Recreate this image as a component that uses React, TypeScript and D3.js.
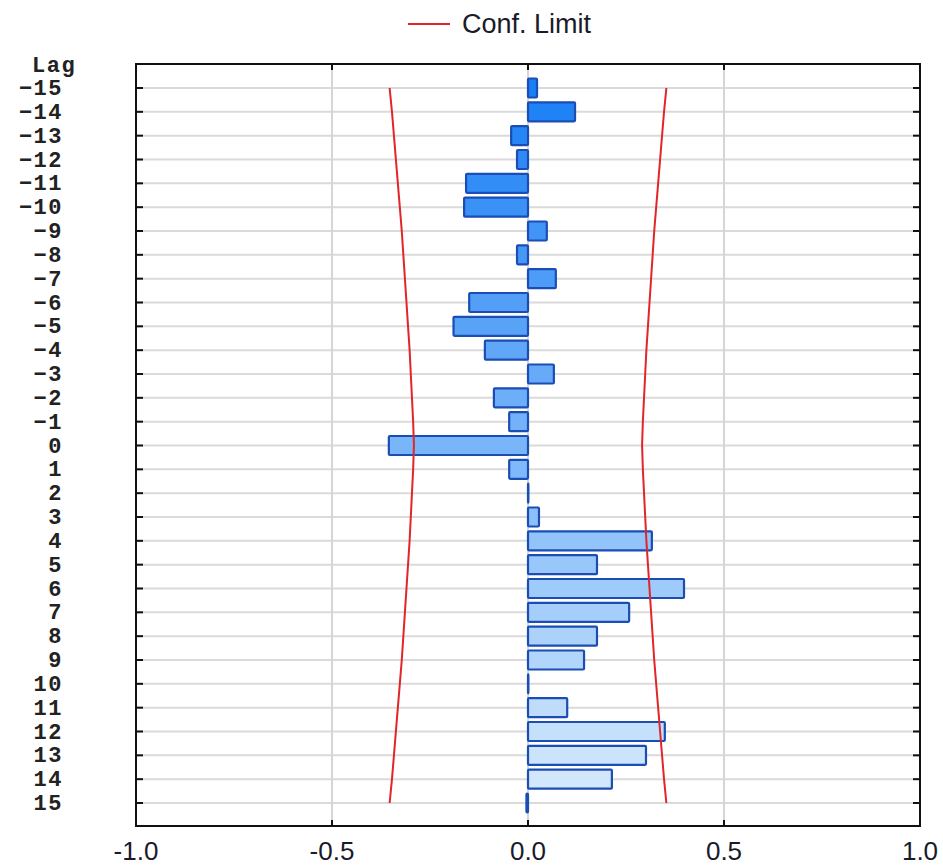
import React from "react";
import * as d3 from "d3";

// lags shown on the y axis, top to bottom
const lags = d3.range(-15, 16);

// cross-correlation per lag (-15 .. 15)
const ccf = [
  0.023, 0.12, -0.043, -0.028, -0.158, -0.163, 0.048, -0.028, 0.071, -0.15,
  -0.19, -0.11, 0.066, -0.087, -0.048, -0.355, -0.048, 0.001, 0.028, 0.316,
  0.176, 0.398, 0.258, 0.176, 0.143, 0.001, 0.1, 0.349, 0.301, 0.214, -0.004,
];

// confidence limit (+/-) per lag (-15 .. 15)
const confLimit = [
  0.353, 0.347, 0.342, 0.337, 0.332, 0.327, 0.322, 0.318, 0.314, 0.310,
  0.306, 0.302, 0.299, 0.296, 0.293, 0.291, 0.293, 0.296, 0.299, 0.302,
  0.306, 0.310, 0.314, 0.318, 0.322, 0.327, 0.332, 0.337, 0.342, 0.347, 0.353,
];

const xTicks = [-1.0, -0.5, 0.0, 0.5, 1.0];
const xGrid = [-0.5, 0.0, 0.5];

const W = 943;
const H = 866;
const frame = { left: 136, right: 920, top: 64, bottom: 826 };
const monoFont = "Liberation Mono, Courier New, monospace";
const sansFont = "Liberation Sans, Arial, sans-serif";

const App = () => {
  const x = d3.scaleLinear().domain([-1, 1]).range([frame.left, frame.right]);
  const y = d3.scaleLinear().domain([-15, 15]).range([88, 803]);
  const barH = 19;
  const color = d3.interpolateRgb("#1a7ff5", "#d8ebfc");

  const upper = d3
    .line<number>()
    .x((d) => x(d))
    .y((_, i) => y(lags[i]));
  const lower = d3
    .line<number>()
    .x((d) => x(-d))
    .y((_, i) => y(lags[i]));

  return (
    <div style={{ position: "absolute", left: 0, top: 0 }}>
      <svg width={W} height={H} style={{ display: "block", background: "#fff" }}>
        {/* legend */}
        <line x1={408} x2={450} y1={24} y2={24} stroke="#e0262a" strokeWidth={2} />
        <text x={462} y={33} fontFamily={sansFont} fontSize={27} fill="#1a1a2a">
          Conf. Limit
        </text>

        {/* grid */}
        {lags.map((l) => (
          <line key={"h" + l} x1={frame.left} x2={frame.right} y1={y(l)} y2={y(l)} stroke="#dadada" strokeWidth={2} />
        ))}
        {xGrid.map((v) => (
          <line key={"v" + v} x1={x(v)} x2={x(v)} y1={frame.top} y2={frame.bottom} stroke="#d6d6d6" strokeWidth={2} />
        ))}

        {/* bars */}
        {ccf.map((v, i) => (
          <rect
            key={"b" + i}
            x={Math.min(x(0), x(v))}
            y={y(lags[i]) - barH / 2}
            width={Math.abs(x(v) - x(0))}
            height={barH}
            rx={1}
            fill={color(i / (lags.length - 1))}
            stroke="#1b4db4"
            strokeWidth={2.2}
          />
        ))}

        {/* confidence limits */}
        <path d={upper(confLimit) || ""} fill="none" stroke="#e0262a" strokeWidth={2} />
        <path d={lower(confLimit) || ""} fill="none" stroke="#e0262a" strokeWidth={2} />

        {/* frame */}
        <rect
          x={frame.left}
          y={frame.top}
          width={frame.right - frame.left}
          height={frame.bottom - frame.top}
          fill="none"
          stroke="#111"
          strokeWidth={2}
        />

        {/* ticks */}
        {lags.map((l) => (
          <g key={"t" + l}>
            <line x1={frame.left} x2={frame.left + 7} y1={y(l)} y2={y(l)} stroke="#111" strokeWidth={2} />
            <line x1={frame.right - 7} x2={frame.right} y1={y(l)} y2={y(l)} stroke="#111" strokeWidth={2} />
          </g>
        ))}
        {xTicks.map((v) => (
          <g key={"xt" + v}>
            <line x1={x(v)} x2={x(v)} y1={frame.top} y2={frame.top + 6} stroke="#111" strokeWidth={2} />
            <line x1={x(v)} x2={x(v)} y1={frame.bottom - 6} y2={frame.bottom} stroke="#111" strokeWidth={2} />
          </g>
        ))}

        {/* y labels */}
        <text x={32} y={72} fontFamily={monoFont} fontWeight="bold" fontSize={22} letterSpacing={1.5} fill="#222">
          Lag
        </text>
        {lags.map((l) => (
          <text
            key={"yl" + l}
            x={63}
            y={y(l) + 7}
            textAnchor="end"
            fontFamily={monoFont}
            fontWeight="bold"
            fontSize={22}
            letterSpacing={1.5}
            fill="#222"
          >
            {l < 0 ? "\u2212" + Math.abs(l) : String(l)}
          </text>
        ))}

        {/* x labels */}
        {xTicks.map((v) => (
          <text
            key={"xl" + v}
            x={x(v)}
            y={860}
            textAnchor="middle"
            fontFamily={sansFont}
            fontSize={26}
            fill="#1a1a2a"
          >
            {d3.format(".1f")(v).replace("\u2212", "-")}
          </text>
        ))}
      </svg>
    </div>
  );
};

export default App;
